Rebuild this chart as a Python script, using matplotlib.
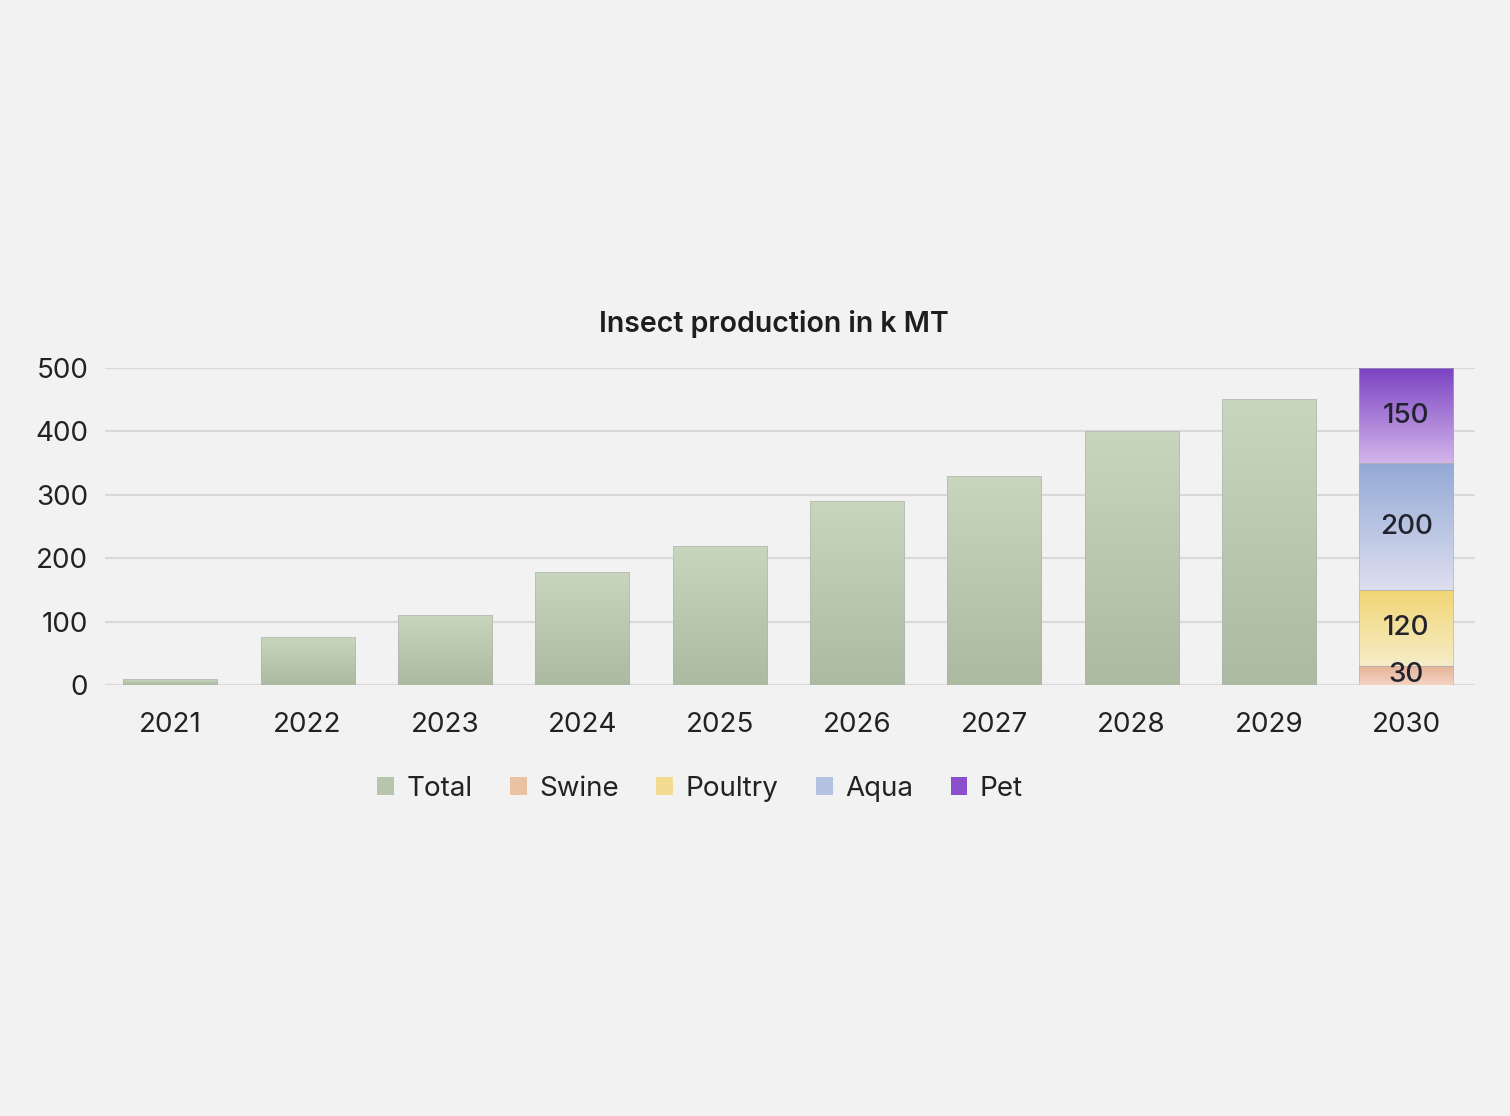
import numpy as np
import matplotlib
matplotlib.use('Agg')
import matplotlib.pyplot as plt
from matplotlib.colors import LinearSegmentedColormap
from matplotlib.patches import Patch

# data
years = ['2021', '2022', '2023', '2024', '2025', '2026', '2027', '2028', '2029', '2030']
total = [9, 75, 110, 178, 220, 290, 330, 401, 451]
segments = ['Swine', 'Poultry', 'Aqua', 'Pet']
segment_values = [30, 120, 200, 150]

# gradient colours (top, bottom)
grad = {
    'Total': ('#c9d6be', '#abbaa0'),
    'Swine': ('#e6b296', '#f3d3c3'),
    'Poultry': ('#f1d573', '#f6edc8'),
    'Aqua': ('#93a9d5', '#dedff0'),
    'Pet': ('#7a42c3', '#d3b5ea'),
}
legend_col = {
    'Total': '#b6c5ab', 'Swine': '#e9c2a4', 'Poultry': '#f1dc92',
    'Aqua': '#b5c1e1', 'Pet': '#8a4fcc',
}

plt.rcParams['font.family'] = ['Inter', 'DejaVu Sans']
bg = '#f2f2f2'

fig = plt.figure(figsize=(15.1, 11.16), dpi=100, facecolor=bg)
ax = fig.add_axes([105 / 1510, 1 - 685 / 1116, 1370 / 1510, 317 / 1116])
ax.set_facecolor(bg)

width = 0.685
x = np.arange(len(years))


def gradient_bar(xc, bottom, height, key):
    top_c, bot_c = grad[key]
    cmap = LinearSegmentedColormap.from_list(key, [bot_c, top_c])
    bars = ax.bar(xc, height, width, bottom=bottom, color='none',
                  edgecolor='#b0b0b0', linewidth=0.4, zorder=3)
    p = bars.patches[0]
    img = ax.imshow(np.linspace(0, 1, 256).reshape(-1, 1), cmap=cmap,
                    extent=(xc - width / 2, xc + width / 2, bottom, bottom + height),
                    origin='lower', aspect='auto', zorder=2)
    img.set_clip_path(p)


for i, v in enumerate(total):
    gradient_bar(x[i], 0, v, 'Total')

bottom = 0
for name, v in zip(segments, segment_values):
    gradient_bar(x[-1], bottom, v, name)
    ax.text(x[-1], bottom + v / 2, str(v), ha='center', va='center',
            fontsize=20, fontweight='medium', color='#23232e', zorder=4)
    bottom += v

ax.set_xlim(-0.475, 9.5)
ax.set_ylim(0, 500)
ax.set_yticks([0, 100, 200, 300, 400, 500])
ax.set_xticks(x)
ax.set_xticklabels(years)
ax.tick_params(axis='both', length=0, labelsize=20, colors='#222222')
ax.tick_params(axis='y', pad=12)
ax.tick_params(axis='x', pad=19.5)
ax.grid(axis='y', color='#d9d9d9', linewidth=1.6, zorder=0)
ax.set_axisbelow(True)
for s in ax.spines.values():
    s.set_visible(False)

fig.text(774 / 1510, 1 - 324 / 1116, 'Insect production in k MT', ha='center',
         va='center', fontsize=20.5, fontweight='semibold', color='#1e1e1e')

handles = [Patch(facecolor=legend_col[k], edgecolor='none', label=k)
           for k in ['Total', 'Swine', 'Poultry', 'Aqua', 'Pet']]
fig.legend(handles=handles, loc='center', bbox_to_anchor=(700 / 1510, 1 - 789 / 1116),
           ncol=5, frameon=False, fontsize=20, handlelength=0.6, handleheight=0.6,
           handletextpad=0.45, columnspacing=1.35, labelcolor='#222222')

fig.savefig('out.png', dpi=100, facecolor=bg)
